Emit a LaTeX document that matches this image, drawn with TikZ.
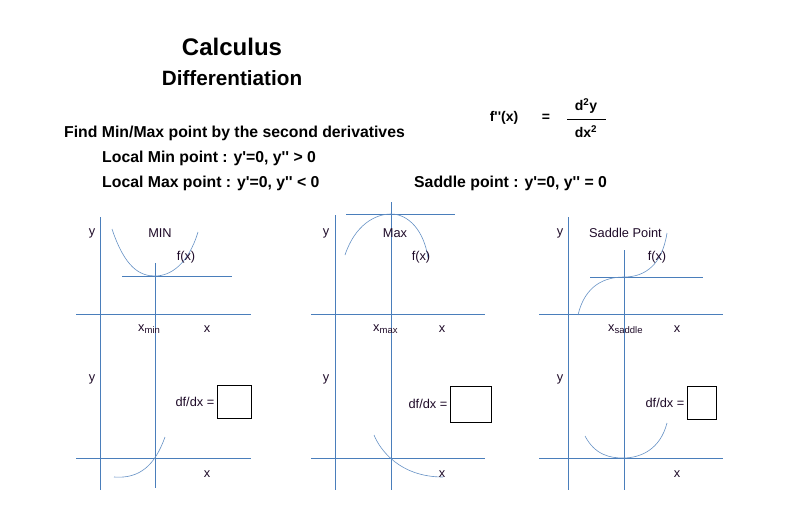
\documentclass[tikz,border=0pt]{standalone}
\usepackage{fontspec}
\setmainfont{Liberation Sans}[Ligatures=TeXOff]
\definecolor{axblue}{RGB}{74,126,187}
\definecolor{txt}{RGB}{30,10,40}
\newcommand{\sbs}[1]{\raisebox{-2.5pt}{\fontsize{9.5}{9.5}\selectfont #1}}
\begin{document}
\begin{tikzpicture}[x=1pt,y=-1pt,
  axis/.style={draw=axblue, line width=0.9pt},
  curve/.style={draw=axblue!85, line width=0.6pt},
  lbl/.style={font=\fontsize{12.8}{14}\selectfont, text=txt, inner sep=0pt},
  hdr/.style={font=\bfseries\fontsize{15.8}{18}\selectfont, inner sep=0pt, anchor=west},
  frm/.style={font=\bfseries\fontsize{14}{16}\selectfont, inner sep=0pt},
  dbox/.style={draw=black, line width=0.9pt, minimum width=#1, inner sep=0pt}]
\useasboundingbox (0,0) rectangle (799,525);
% titles
\node[font=\bfseries\fontsize{24}{28}\selectfont, inner sep=0pt] (t1) at (232,47) {Calculus};
\node[font=\bfseries\fontsize{20.7}{24}\selectfont, inner sep=0pt] (t2) at (232,78) {Differentiation};
\node[hdr] (h1) at (64,133) {Find Min/Max point by the second derivatives};
\node[hdr] (h2) at (102,158) {Local Min point : y'=0, y'' {\textgreater} 0};
\node[hdr] (h3) at (102,183) {Local Max point : y'=0, y'' {\textless} 0};
\node[hdr] (h4) at (414,183) {Saddle point : y'=0, y'' = 0};
% formula
\node[frm] (f1) at (504,118) {f''(x)};
\node[frm] (f2) at (546,118) {=};
\node[frm] (f3) at (586,106) {d\textsuperscript{2}y};
\node[frm] (f4) at (586,132) {dx\textsuperscript{2}};
\draw[line width=0.9pt] (567,119) -- (606,119);
% ---------- panel 1 ----------
\draw[axis] (100,217) -- (100,490);
\draw[axis] (76,314) -- (251,314);
\draw[axis] (122,276) -- (232,276);
\draw[axis] (155,263) -- (155,488);
\draw[curve] (112,229) .. controls (125,268) and (140,276) .. (155,276) .. controls (170,276) and (188,265) .. (198,232);
\node[lbl] (y1) at (92,233) {y};
\node[lbl] (m1) at (160,233) {MIN};
\node[lbl] (fx1) at (186,257) {f(x)};
\node[lbl, anchor=west] (xm1) at (138,329) {x\sbs{min}};
\node[lbl] (x1) at (207,329) {x};
\draw[axis] (76,458) -- (251,458);
\draw[curve] (114,477) .. controls (140,479) and (155,465) .. (165,437);
\node[lbl] (y1b) at (92,379) {y};
\node[dbox=34pt, minimum height=33pt] (b1) at (234,401.5) {};
\node[lbl, anchor=east] (d1) at ([xshift=-2pt]b1.west) {df/dx =};
\node[lbl] (x1b) at (207,474) {x};
% ---------- panel 2 ----------
\draw[axis] (335,215) -- (335,490);
\draw[axis] (311,314) -- (485,314);
\draw[axis] (346,214) -- (455,214);
\draw[axis] (391,202) -- (391,490);
\draw[curve] (345,255) .. controls (355,225) and (375,214) .. (391,214) .. controls (408,214) and (424,230) .. (428,258);
\node[lbl] (y2) at (326,233) {y};
\node[lbl] (m2) at (395,233) {Max};
\node[lbl] (fx2) at (421,257) {f(x)};
\node[lbl, anchor=west] (xm2) at (373,329) {x\sbs{max}};
\node[lbl] (x2) at (442,329) {x};
\draw[axis] (311,458) -- (485,458);
\draw[curve] (374,435) .. controls (380,450) and (400,477) .. (443,477);
\node[lbl] (y2b) at (326,379) {y};
\node[dbox=41pt, minimum height=36pt] (b2) at (470.5,404) {};
\node[lbl, anchor=east] (d2) at ([xshift=-2pt]b2.west) {df/dx =};
\node[lbl] (x2b) at (442,474) {x};
% ---------- panel 3 ----------
\draw[axis] (568,217) -- (568,490);
\draw[axis] (539,314) -- (723,314);
\draw[axis] (590,277) -- (703,277);
\draw[axis] (624,250) -- (624,490);
\draw[curve] (578,315) .. controls (585,285) and (605,277) .. (624,277) .. controls (645,277) and (662,265) .. (667,233);
\node[lbl] (y3) at (560,233) {y};
\node[lbl, anchor=west] (m3) at (589,233) {Saddle Point};
\node[lbl] (fx3) at (657,257) {f(x)};
\node[lbl, anchor=west] (xm3) at (608,329) {x\sbs{saddle}};
\node[lbl] (x3) at (677,329) {x};
\draw[axis] (539,458) -- (723,458);
\draw[curve] (585,436) .. controls (595,455) and (610,458) .. (623,458) .. controls (640,458) and (660,450) .. (667,423);
\node[lbl] (y3b) at (560,379) {y};
\node[dbox=29pt, minimum height=33pt] (b3) at (701.5,402.5) {};
\node[lbl, anchor=east] (d3) at ([xshift=-2pt]b3.west) {df/dx =};
\node[lbl] (x3b) at (677,474) {x};
\end{tikzpicture}
\end{document}
